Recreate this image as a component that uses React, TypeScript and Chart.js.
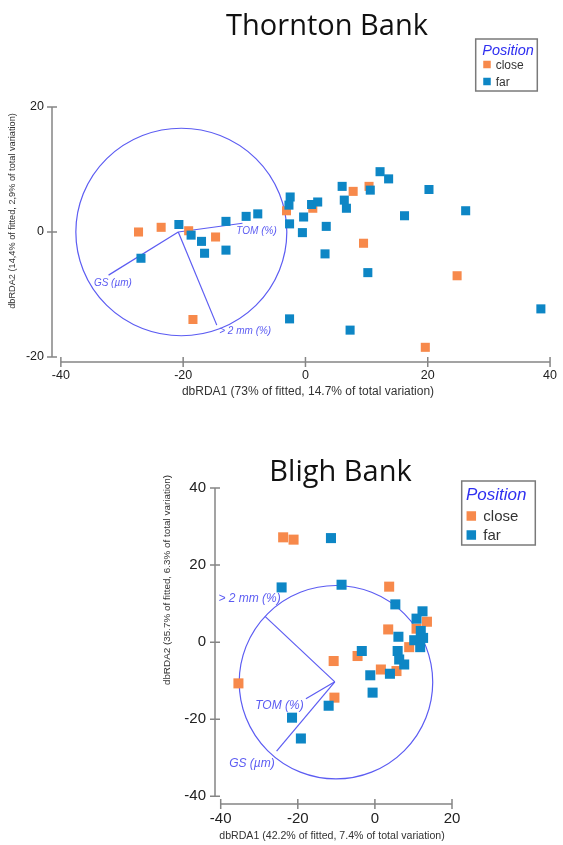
import React, { useEffect, useRef } from "react";
import { Chart, registerables } from "chart.js";
Chart.register(...registerables);

// ---------------- Thornton Bank data ----------------
const thorntonClose: [number, number][] = [
  [-27.3, 0.0], [-23.6, 0.75], [-19.1, 0.2], [-14.7, -0.8], [-18.4, -14.0], [-3.1, 3.4],
  [1.2, 3.8], [7.8, 6.5], [10.4, 7.3], [9.5, -1.8], [24.8, -7.0], [19.6, -18.45],
];
const thorntonFar: [number, number][] = [
  [-20.7, 1.2], [-18.7, -0.5], [-17.0, -1.5], [-16.5, -3.4], [-13.0, -2.9], [-13.0, 1.7],
  [-9.7, 2.5], [-7.8, 2.9], [-26.9, -4.2], [-2.5, 5.6], [-2.7, 4.3], [-2.6, 1.3],
  [-0.3, 2.4], [-0.5, -0.1], [1.0, 4.4], [2.0, 4.8], [6.0, 7.3], [6.35, 5.1], [6.7, 3.8],
  [3.4, 0.9], [3.2, -3.5], [12.2, 9.65], [13.6, 8.5], [10.6, 6.7], [20.2, 6.8], [16.2, 2.6],
  [26.2, 3.4], [10.2, -6.5], [-2.6, -13.9], [7.3, -15.7], [38.5, -12.3],
];
const thorntonXTicks = [-40, -20, 0, 20, 40];
const thorntonYTicks = [-20, 0, 20];
const thorntonVectorNames = ["TOM (%)", "GS (µm)", "> 2 mm (%)"];
const thorntonVectorX = [-10.3, -32.2, -14.5];
const thorntonVectorY = [1.4, -6.9, -14.9];
const thorntonVectorOrigin: [number, number] = [-20.8, 0];
const thorntonCircle = { cx: -20.3, cy: 0, rx: 17.25, ry: 16.6 };

// ---------------- Bligh Bank data ----------------
const blighClose: [number, number][] = [
  [-23.8, 27.2], [-21.1, 26.6], [3.7, 14.4], [13.5, 5.3], [3.45, 3.3], [10.8, 3.5],
  [8.9, -1.3], [1.55, -7.1], [5.6, -7.5], [-4.5, -3.6], [-10.7, -4.9], [-10.5, -14.4],
  [-35.4, -10.7],
];
const blighFar: [number, number][] = [
  [-24.2, 14.2], [-11.4, 27.0], [-8.65, 14.9], [5.3, 9.8], [12.35, 8.0], [10.8, 6.1],
  [11.9, 2.9], [12.5, 1.1], [6.1, 1.4], [10.2, 0.5], [11.75, -1.3], [-3.4, -2.3],
  [5.9, -2.3], [6.3, -4.5], [7.6, -5.8], [3.9, -8.2], [-1.2, -8.6], [-0.6, -13.1],
  [-12.0, -16.5], [-21.5, -19.6], [-19.2, -25.0],
];
const blighXTicks = [-40, -20, 0, 20];
const blighYTicks = [-40, -20, 0, 20, 40];
const blighVectorNames = ["TOM (%)", "GS (µm)", "> 2 mm (%)"];
const blighVectorX = [-17.9, -25.5, -28.5];
const blighVectorY = [-14.7, -28.3, 6.7];
const blighVectorOrigin: [number, number] = [-10.4, -10.3];
const blighCircle = { cx: -10.1, cy: -10.4, rx: 25.1, ry: 25.1 };

const seriesLabels = ["close", "far"];

// ---------------- styles ----------------
const ORANGE = "#f7894b";
const BLUE = "#0d86c5";
const VEC = "#5c5cf2";
const AXIS = "#858585";
const SANS = "'Liberation Sans', Arial, sans-serif";
const TITLE_FONT = "'Open Sans', 'Noto Sans', sans-serif";

type Cfg = {
  key: string;
  width: number;
  height: number;
  xMin: number; xMax: number; yMin: number; yMax: number;
  pad: { top: number; right: number };
  yWidth: number; xHeight: number;
  xTicks: number[]; yTicks: number[];
  tickFont: number; xTickPad: number; yTickPad: number; tickLen: number;
  close: [number, number][]; far: [number, number][];
  pointRadius: number;
  vecNames: string[]; vecX: number[]; vecY: number[]; origin: [number, number];
  labelPos: [number, number][]; vecFont: number;
  circle: { cx: number; cy: number; rx: number; ry: number };
  title: string; titleX: number; titleY: number; titleSize: number;
  xTitle: string; xTitleX: number; xTitleY: number; xTitleSize: number;
  yTitle: string; yTitleX: number; yTitleY: number; yTitleSize: number;
  legend: {
    x0: number; y0: number; x1: number; y1: number;
    headX: number; headY: number; headSize: number;
    markX: number; markY: number[]; markSize: number;
    textX: number; textY: number[]; textSize: number;
  };
};

function makeOverlay(cfg: Cfg) {
  return {
    id: "overlay_" + cfg.key,
    beforeDatasetsDraw(chart: any) {
      const { ctx } = chart;
      const xs = chart.scales.x;
      const ys = chart.scales.y;
      ctx.save();
      ctx.strokeStyle = VEC;
      ctx.lineWidth = 1.2;
      const c = cfg.circle;
      const cx = xs.getPixelForValue(c.cx);
      const cy = ys.getPixelForValue(c.cy);
      const rx = Math.abs(xs.getPixelForValue(c.cx + c.rx) - cx);
      const ry = Math.abs(ys.getPixelForValue(c.cy + c.ry) - cy);
      ctx.beginPath();
      ctx.ellipse(cx, cy, rx, ry, 0, 0, Math.PI * 2);
      ctx.stroke();
      const ox = xs.getPixelForValue(cfg.origin[0]);
      const oy = ys.getPixelForValue(cfg.origin[1]);
      cfg.vecX.forEach((vx, i) => {
        ctx.beginPath();
        ctx.moveTo(ox, oy);
        ctx.lineTo(xs.getPixelForValue(vx), ys.getPixelForValue(cfg.vecY[i]));
        ctx.stroke();
      });
      ctx.fillStyle = VEC;
      ctx.font = `italic ${cfg.vecFont}px ${SANS}`;
      ctx.textAlign = "left";
      ctx.textBaseline = "middle";
      cfg.vecNames.forEach((name, i) => {
        const p = cfg.labelPos[i];
        ctx.fillText(name, xs.getPixelForValue(p[0]), ys.getPixelForValue(p[1]));
      });
      ctx.restore();
    },
    afterDraw(chart: any) {
      const { ctx, chartArea } = chart;
      const xs = chart.scales.x;
      const ys = chart.scales.y;
      ctx.save();
      // axes
      ctx.strokeStyle = AXIS;
      ctx.lineWidth = 1.5;
      const ay = chartArea.bottom;
      const ax = chartArea.left;
      const tl = cfg.tickLen;
      ctx.beginPath();
      ctx.moveTo(xs.getPixelForValue(cfg.xTicks[0]), ay);
      ctx.lineTo(xs.getPixelForValue(cfg.xTicks[cfg.xTicks.length - 1]), ay);
      cfg.xTicks.forEach((v) => {
        const px = xs.getPixelForValue(v);
        ctx.moveTo(px, ay - tl);
        ctx.lineTo(px, ay + tl);
      });
      ctx.moveTo(ax, ys.getPixelForValue(cfg.yTicks[0]));
      ctx.lineTo(ax, ys.getPixelForValue(cfg.yTicks[cfg.yTicks.length - 1]));
      cfg.yTicks.forEach((v) => {
        const py = ys.getPixelForValue(v);
        ctx.moveTo(ax - tl, py);
        ctx.lineTo(ax + tl, py);
      });
      ctx.stroke();
      // chart title
      ctx.fillStyle = "#111";
      ctx.font = `${cfg.titleSize}px ${TITLE_FONT}`;
      ctx.textAlign = "center";
      ctx.textBaseline = "alphabetic";
      ctx.fillText(cfg.title, cfg.titleX, cfg.titleY);
      // axis titles
      ctx.fillStyle = "#333";
      ctx.font = `${cfg.xTitleSize}px ${SANS}`;
      ctx.fillText(cfg.xTitle, cfg.xTitleX, cfg.xTitleY);
      ctx.save();
      ctx.translate(cfg.yTitleX, cfg.yTitleY);
      ctx.rotate(-Math.PI / 2);
      ctx.font = `${cfg.yTitleSize}px ${SANS}`;
      ctx.textBaseline = "middle";
      ctx.fillText(cfg.yTitle, 0, 0);
      ctx.restore();
      // legend
      const L = cfg.legend;
      ctx.strokeStyle = "#7a7a7a";
      ctx.lineWidth = 1.5;
      ctx.strokeRect(L.x0, L.y0, L.x1 - L.x0, L.y1 - L.y0);
      ctx.fillStyle = "#2f2ff0";
      ctx.font = `italic ${L.headSize}px ${SANS}`;
      ctx.textAlign = "left";
      ctx.textBaseline = "alphabetic";
      ctx.fillText("Position", L.headX, L.headY);
      chart.data.datasets.forEach((ds: any, i: number) => {
        ctx.fillStyle = ds.backgroundColor;
        ctx.fillRect(L.markX - L.markSize / 2, L.markY[i] - L.markSize / 2, L.markSize, L.markSize);
        ctx.fillStyle = "#333";
        ctx.font = `${L.textSize}px ${SANS}`;
        ctx.fillText(ds.label, L.textX, L.textY[i]);
      });
      ctx.restore();
    },
  };
}

function ScatterPanel({ cfg }: { cfg: Cfg }) {
  const ref = useRef<HTMLCanvasElement | null>(null);
  useEffect(() => {
    if (!ref.current) return;
    const toPts = (arr: [number, number][]) => arr.map(([x, y]) => ({ x, y }));
    const chart = new Chart(ref.current, {
      type: "scatter",
      data: {
        datasets: [
          {
            label: seriesLabels[0],
            data: toPts(cfg.close),
            backgroundColor: ORANGE,
            borderColor: ORANGE,
            borderWidth: 0,
            pointStyle: "rect",
            pointRadius: cfg.pointRadius,
            order: 1,
          },
          {
            label: seriesLabels[1],
            data: toPts(cfg.far),
            backgroundColor: BLUE,
            borderColor: BLUE,
            borderWidth: 0,
            pointStyle: "rect",
            pointRadius: cfg.pointRadius,
            order: 0,
          },
        ],
      },
      options: {
        animation: false,
        responsive: false,
        maintainAspectRatio: false,
        layout: {
          autoPadding: false,
          padding: { top: cfg.pad.top, right: cfg.pad.right, left: 0, bottom: 0 },
        },
        plugins: {
          legend: { display: false },
          tooltip: { enabled: false },
          title: { display: false },
        },
        scales: {
          x: {
            type: "linear",
            position: "bottom",
            min: cfg.xMin,
            max: cfg.xMax,
            afterBuildTicks: (s: any) => {
              s.ticks = cfg.xTicks.map((v) => ({ value: v }));
            },
            afterFit: (s: any) => {
              s.height = cfg.xHeight;
            },
            grid: { display: false, drawTicks: false },
            border: { display: false },
            ticks: {
              autoSkip: false,
              maxRotation: 0,
              padding: cfg.xTickPad,
              color: "#222",
              font: { family: SANS, size: cfg.tickFont },
            },
          },
          y: {
            type: "linear",
            position: "left",
            min: cfg.yMin,
            max: cfg.yMax,
            afterBuildTicks: (s: any) => {
              s.ticks = cfg.yTicks.map((v) => ({ value: v }));
            },
            afterFit: (s: any) => {
              s.width = cfg.yWidth;
            },
            grid: { display: false, drawTicks: false },
            border: { display: false },
            ticks: {
              autoSkip: false,
              padding: cfg.yTickPad,
              color: "#222",
              font: { family: SANS, size: cfg.tickFont },
            },
          },
        },
      } as any,
      plugins: [makeOverlay(cfg)],
    });
    return () => chart.destroy();
  }, [cfg]);
  return (
    <canvas
      ref={ref}
      width={cfg.width}
      height={cfg.height}
      style={{ display: "block", width: cfg.width, height: cfg.height }}
    />
  );
}

const thorntonCfg: Cfg = {
  key: "thornton",
  width: 563,
  height: 420,
  xMin: -41.45, xMax: 40, yMin: -20.8, yMax: 20,
  pad: { top: 107, right: 7 },
  yWidth: 52, xHeight: 58,
  xTicks: thorntonXTicks, yTicks: thorntonYTicks,
  tickFont: 12.5, xTickPad: 6, yTickPad: 8, tickLen: 5,
  close: thorntonClose, far: thorntonFar,
  pointRadius: 6.4,
  vecNames: thorntonVectorNames, vecX: thorntonVectorX, vecY: thorntonVectorY,
  origin: thorntonVectorOrigin,
  labelPos: [[-11.3, 0.2], [-34.6, -8.2], [-14.1, -15.8]],
  vecFont: 10,
  circle: thorntonCircle,
  title: "Thornton Bank", titleX: 327, titleY: 35, titleSize: 29,
  xTitle: "dbRDA1 (73% of fitted, 14.7% of total variation)", xTitleX: 308, xTitleY: 395, xTitleSize: 12,
  yTitle: "dbRDA2 (14,4% of fitted, 2,9% of total variation)", yTitleX: 12, yTitleY: 211, yTitleSize: 9.2,
  legend: {
    x0: 475.7, y0: 39, x1: 537.3, y1: 91,
    headX: 482.3, headY: 55, headSize: 14.5,
    markX: 487, markY: [64.5, 81.5], markSize: 7.5,
    textX: 495.7, textY: [69, 86], textSize: 12,
  },
};

const blighCfg: Cfg = {
  key: "bligh",
  width: 563,
  height: 425,
  xMin: -41.48, xMax: 20, yMin: -42, yMax: 40,
  pad: { top: 68, right: 111 },
  yWidth: 215, xHeight: 41,
  xTicks: blighXTicks, yTicks: blighYTicks,
  tickFont: 15, xTickPad: 6, yTickPad: 9, tickLen: 5,
  close: blighClose, far: blighFar,
  pointRadius: 7.1,
  vecNames: blighVectorNames, vecX: blighVectorX, vecY: blighVectorY,
  origin: blighVectorOrigin,
  labelPos: [[-31.05, -16.4], [-37.8, -31.5], [-40.6, 11.26]],
  vecFont: 12,
  circle: blighCircle,
  title: "Bligh Bank", titleX: 340.5, titleY: 61, titleSize: 29,
  xTitle: "dbRDA1 (42.2% of fitted, 7.4% of total variation)", xTitleX: 332, xTitleY: 419, xTitleSize: 10.6,
  yTitle: "dbRDA2 (35.7% of fitted, 6.3% of total variation)", yTitleX: 167.5, yTitleY: 160, yTitleSize: 9.9,
  legend: {
    x0: 461.7, y0: 61, x1: 535.3, y1: 125,
    headX: 466, headY: 80, headSize: 17,
    markX: 471.3, markY: [96, 115], markSize: 9.5,
    textX: 483.3, textY: [101, 120], textSize: 15,
  },
};

export default function App() {
  return (
    <div style={{ position: "absolute", left: 0, top: 0, width: 563, height: 845, background: "#fff" }}>
      <ScatterPanel cfg={thorntonCfg} />
      <ScatterPanel cfg={blighCfg} />
    </div>
  );
}
